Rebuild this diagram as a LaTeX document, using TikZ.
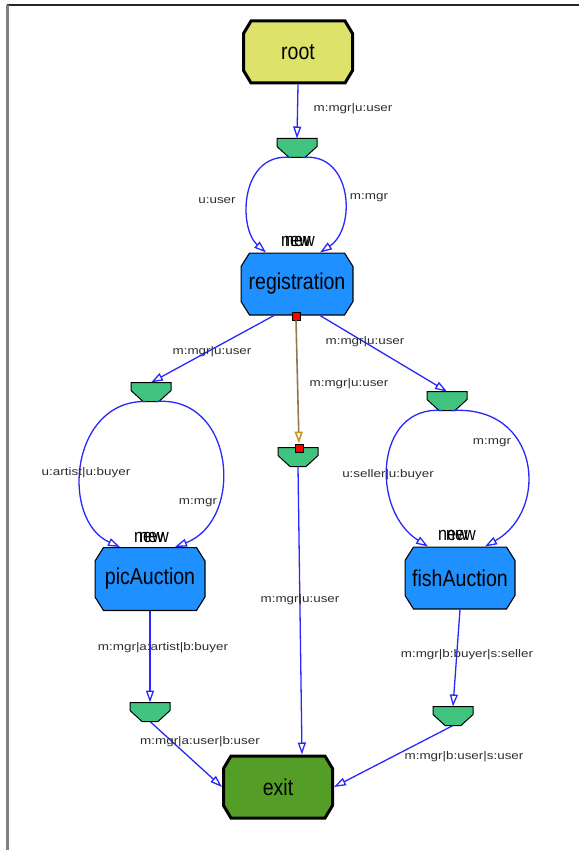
\documentclass[tikz,border=0pt]{standalone}
\usepackage{fontspec}
\setmainfont{Liberation Sans}
\newfontfamily\nodefont[FakeStretch=0.85]{Liberation Sans}
\newfontfamily\labfont[FakeStretch=1.22]{Liberation Sans}
\usetikzlibrary{arrows.meta}
\definecolor{rootc}{RGB}{221,226,106}
\definecolor{trapc}{RGB}{64,196,128}
\definecolor{stc}{RGB}{30,144,255}
\definecolor{exitc}{RGB}{84,158,40}
\definecolor{edgec}{RGB}{40,40,250}
\definecolor{labc}{RGB}{45,45,45}
\definecolor{brownc}{RGB}{150,120,80}
\definecolor{goldc}{RGB}{200,150,30}
\begin{document}
\begin{tikzpicture}[x=1pt,y=-1pt,
  oct/.style n args={3}{rectangle, inner sep=0pt, outer sep=0pt,
    font=\nodefont\fontsize{23}{26}\selectfont,
    path picture={\filldraw[fill=#1, draw=black, line width=#2, line join=miter]
      ([xshift=9pt,yshift=-#3]path picture bounding box.north west) --
      ([xshift=-9pt,yshift=-#3]path picture bounding box.north east) --
      ([xshift=-#3,yshift=-14pt]path picture bounding box.north east) --
      ([xshift=-#3,yshift=14pt]path picture bounding box.south east) --
      ([xshift=-9pt,yshift=#3]path picture bounding box.south east) --
      ([xshift=9pt,yshift=#3]path picture bounding box.south west) --
      ([xshift=#3,yshift=14pt]path picture bounding box.south west) --
      ([xshift=#3,yshift=-14pt]path picture bounding box.north west) -- cycle;}},
  trap/.style={rectangle, minimum width=40pt, minimum height=19pt, inner sep=0pt, outer sep=0pt,
    append after command={\pgfextra{\filldraw[draw=black, fill=trapc, line width=1pt, line join=miter]
      (\tikzlastnode.north west) -- (\tikzlastnode.north east) -- ([yshift=-8pt]\tikzlastnode.north east)
      -- ([xshift=-12pt]\tikzlastnode.south east)
      -- ([xshift=12pt]\tikzlastnode.south west) -- ([yshift=-8pt]\tikzlastnode.north west) -- cycle;}}},
  sqr/.style={rectangle, draw=black, fill=red, minimum size=8pt, inner sep=0pt, line width=0.8pt},
  lab/.style={font=\labfont\fontsize{11}{13}\selectfont, text=labc, inner sep=0pt},
  newl/.style={font=\nodefont\fontsize{19}{21}\selectfont, inner sep=0pt},
  e/.style={draw=edgec, line width=1.3pt, -{Triangle[open,length=12pt,width=8pt]}},
  be/.style={draw=brownc, line width=1.6pt, -{Triangle[open,length=12pt,width=8pt,color=goldc]}}
]
\useasboundingbox (0,0) rectangle (579,850);
\draw[line width=2pt, black!85] (7,5) -- (579,5);
\draw[line width=3pt, gray] (7,5) -- (7,850);

% nodes
\node[oct={rootc}{3pt}{1.5pt}, minimum width=112pt, minimum height=65pt] (root) at (298,52) {root};
\node[trap] (t1) at (297,148) {};
\node[oct={stc}{1.1pt}{0.55pt}, minimum width=113pt, minimum height=63pt] (reg) at (297,284) {registration};
\node[trap] (tl) at (151,392) {};
\node[trap] (tm) at (298,457) {};
\node[trap] (tr) at (447,401) {};
\node[oct={stc}{1.1pt}{0.55pt}, minimum width=111pt, minimum height=64pt] (pic) at (150,579) {picAuction};
\node[oct={stc}{1.1pt}{0.55pt}, minimum width=111pt, minimum height=63pt] (fish) at (460,578) {fishAuction};
\node[trap] (tll) at (150,712) {};
\node[trap] (tlr) at (453,716) {};
\node[oct={exitc}{3pt}{1.5pt}, minimum width=112pt, minimum height=65pt] (exit) at (278,787) {exit};

% edges
\draw[e] (root.south) -- (t1.north);
\draw[e] ([xshift=-6pt]t1.south) .. controls (240,152) and (238,228) .. ([xshift=-31pt]reg.north);
\draw[e] ([xshift=6pt]t1.south) .. controls (352,152) and (357,228) .. ([xshift=23pt]reg.north);
\draw[e] ([xshift=-23pt]reg.south) -- (tl.north);
\draw[e] ([xshift=23pt]reg.south) -- (tr.north);
\draw[e] ([xshift=-5pt]tl.south) .. controls (70,400) and (60,520) .. ([xshift=-30pt]pic.north);
\draw[e] ([xshift=5pt]tl.south) .. controls (235,395) and (245,520) .. ([xshift=25pt]pic.north);
\draw[e] ([xshift=-5pt]tr.south) .. controls (375,405) and (370,510) .. ([xshift=-32pt]fish.north);
\draw[e] ([xshift=5pt]tr.south) .. controls (540,405) and (550,510) .. ([xshift=25pt]fish.north);
\draw[e] (tm.south) -- ([xshift=24pt]exit.north);
\draw[e] (pic.south) -- (tll.north);
\draw[e] (fish.south) -- (tlr.north);
\draw[e] (tll.south) -- (exit.west);
\draw[e] (tlr.south) -- (exit.east);

\node[sqr] (sq1) at (296,316) {};
\node[sqr] (sq2) at (299,448) {};
\draw[be] (sq1.south) -- (sq2.north);

% new labels
\node[newl] (n1a) at (296,241) {new};
\node[newl] (n1b) at (300,241) {new};
\node[newl] (n2a) at (149,537) {new};
\node[newl] (n2b) at (154,537) {new};
\node[newl] (n3a) at (453,535) {new};
\node[newl] (n3b) at (461,535) {new};

% edge labels
\node[lab] (l1) at (353,109) {m:mgr|u:user};
\node[lab] (l2) at (217,201) {u:user};
\node[lab] (l3) at (369,198) {m:mgr};
\node[lab] (l4) at (212,352) {m:mgr|u:user};
\node[lab] (l5) at (349,384) {m:mgr|u:user};
\node[lab] (l6) at (365,342) {m:mgr|u:user};
\node[lab] (l7) at (492,443) {m:mgr};
\node[lab] (l8) at (388,475) {u:seller|u:buyer};
\node[lab] (l9) at (86,473) {u:artist|u:buyer};
\node[lab] (l10) at (198,503) {m:mgr};
\node[lab] (l11) at (163,648) {m:mgr|a:artist|b:buyer};
\node[lab] (l12) at (467,655) {m:mgr|b:buyer|s:seller};
\node[lab] (l13) at (300,600) {m:mgr|u:user};
\node[lab] (l14) at (200,742) {m:mgr|a:user|b:user};
\node[lab] (l15) at (464,757) {m:mgr|b:user|s:user};
\end{tikzpicture}
\end{document}
